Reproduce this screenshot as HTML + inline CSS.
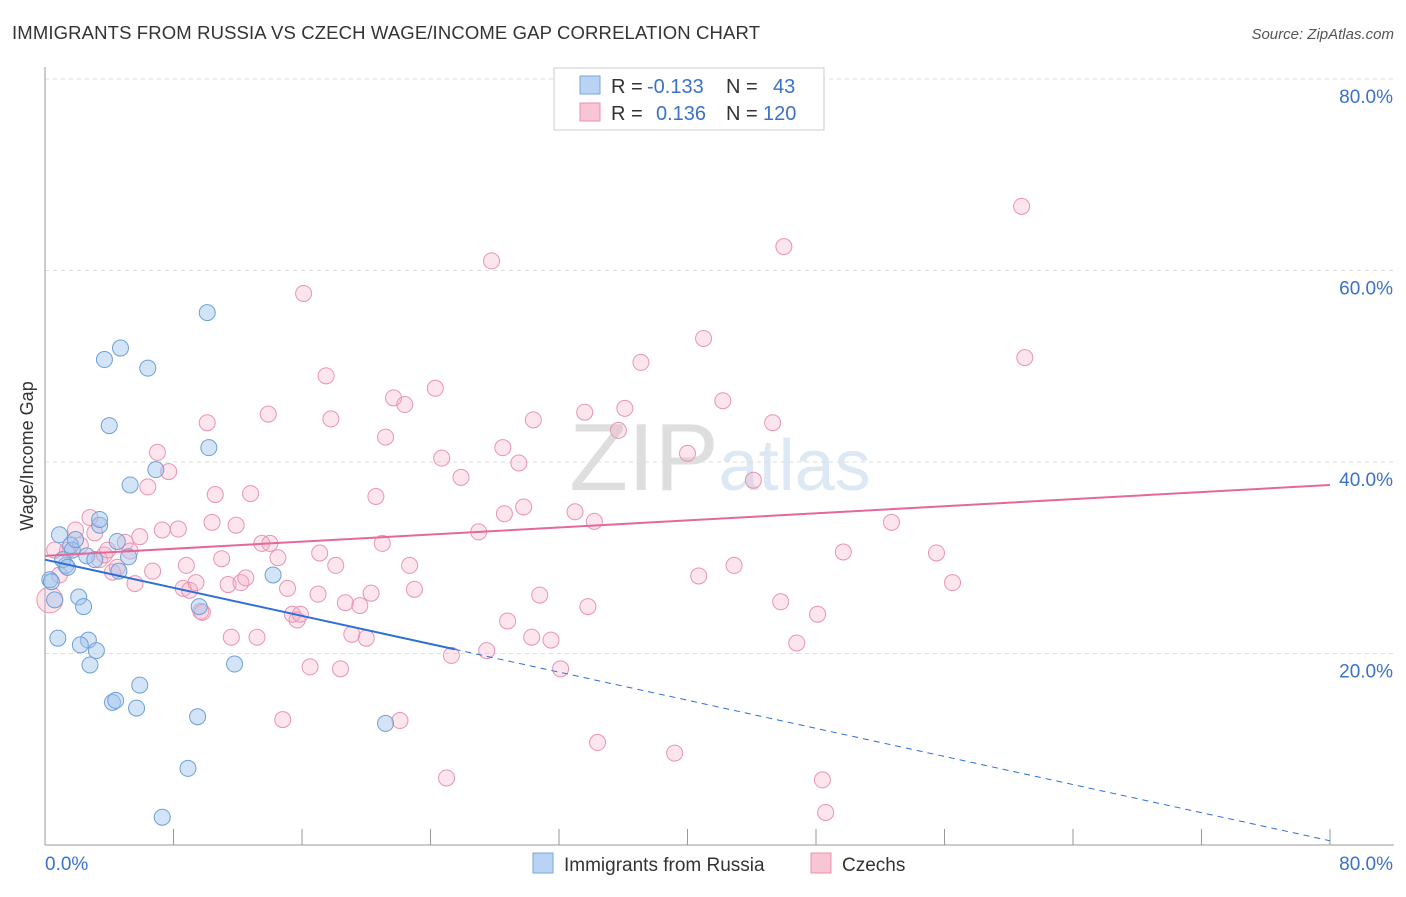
<!DOCTYPE html>
<html><head><meta charset="utf-8"><style>
body{margin:0;background:#fff;font-family:"Liberation Sans",sans-serif;}
svg text{font-family:"Liberation Sans",sans-serif;}
</style></head><body>
<svg id="chart" width="1406" height="892" viewBox="0 0 1406 892" xmlns="http://www.w3.org/2000/svg">
<text x="12" y="39" font-size="18.5" textLength="748" fill="#333">IMMIGRANTS FROM RUSSIA VS CZECH WAGE/INCOME GAP CORRELATION CHART</text>
<text x="1394" y="39" font-size="15" fill="#555" text-anchor="end" font-style="italic">Source: ZipAtlas.com</text>
<text x="720" y="490" font-size="96" text-anchor="middle" fill="#e6e6e6" font-family="Liberation Serif"><tspan fill="#dedede">ZIP</tspan><tspan fill="#dde8f5" font-family="Liberation Sans" font-size="72">atlas</tspan></text>
<g id="grid"></g>
<g id="axes"></g>
<g id="points"></g>
<g id="trends"></g>
<g>
<rect x="554" y="68" width="270" height="62" fill="#fff" stroke="#ccc"/>
<rect x="580" y="76" width="20" height="18" fill="#b8d3f3" stroke="#7aa6dd"/>
<text x="611" y="93" font-size="20" fill="#333">R =</text>
<text x="647" y="93" font-size="20" fill="#3b72c9">-0.133</text>
<text x="726" y="93" font-size="20" fill="#333">N =</text>
<text x="773" y="93" font-size="20" fill="#3b72c9">43</text>
<rect x="580" y="103" width="20" height="18" fill="#f8c5d4" stroke="#e891ad"/>
<text x="611" y="120" font-size="20" fill="#333">R =</text>
<text x="656" y="120" font-size="20" fill="#3b72c9">0.136</text>
<text x="726" y="120" font-size="20" fill="#333">N =</text>
<text x="763" y="120" font-size="20" fill="#3b72c9">120</text>
</g>
<g>
<rect x="533" y="853" width="20" height="20" fill="#b8d3f3" stroke="#7aa6dd"/>
<text x="564" y="871" font-size="19" fill="#333">Immigrants from Russia</text>
<rect x="811" y="853" width="20" height="20" fill="#f8c5d4" stroke="#e891ad"/>
<text x="842" y="871" font-size="19" fill="#333">Czechs</text>
</g>
<text transform="translate(33,456) rotate(-90)" font-size="18" fill="#333" text-anchor="middle">Wage/Income Gap</text>
</svg>
<script>
const yTicks=[20,40,60,80];
const xTickLabels=["0.0%","80.0%"];
const blueX=[0.3,0.6,0.9,1.6,1.7,1.9,1.3,1.1,0.4,0.8,2.1,2.4,2.7,2.2,2.8,3.2,2.6,3.1,3.4,3.4,3.7,4.0,4.5,4.7,4.6,5.2,5.3,6.4,6.9,5.9,5.7,4.2,4.4,10.1,10.2,9.6,9.5,8.9,7.3,11.8,14.2,21.2,1.4];
const blueY=[27.7,25.6,32.4,31.3,30.8,31.9,29.2,29.8,27.5,21.6,25.9,24.9,21.4,20.9,18.8,20.3,30.2,29.8,33.4,34.0,50.7,43.8,31.7,51.9,28.6,30.1,37.6,49.8,39.2,16.7,14.3,14.9,15.1,55.6,41.5,24.9,13.4,8.0,2.9,18.9,28.2,12.7,29.0];
const pinkX=[0.3,0.6,0.9,1.4,1.9,2.2,2.8,3.1,3.4,3.7,3.9,4.2,4.5,5.0,5.3,5.6,5.9,6.4,6.7,7.0,7.3,7.7,8.3,8.6,8.8,9.0,9.4,9.7,9.8,10.1,10.4,10.6,11.0,11.4,11.6,11.9,12.2,12.5,12.8,13.2,13.5,14.0,13.9,14.5,14.8,15.1,15.4,15.7,15.9,16.1,16.5,17.1,17.0,17.5,17.8,18.1,18.4,18.7,19.1,19.6,20.0,20.3,20.6,21.0,21.2,21.7,22.1,22.4,22.7,23.0,24.3,24.7,25.0,25.3,25.9,27.0,27.5,27.8,28.5,28.6,28.8,29.5,29.8,30.3,30.4,30.8,31.5,32.1,33.0,33.6,33.8,34.2,34.4,35.7,36.1,37.1,39.2,40.0,40.7,41.0,42.2,42.9,44.1,45.3,45.8,46.0,46.8,48.1,48.4,48.6,49.7,52.7,55.5,56.5,60.8,61.0];
const pinkY=[25.6,30.8,28.2,30.8,32.9,31.3,34.2,32.6,29.8,30.3,30.8,28.5,29.0,31.6,30.7,27.3,32.2,37.4,28.6,41.0,32.9,39.0,33.0,26.8,29.2,26.6,27.4,24.4,24.3,44.1,33.7,36.6,29.9,27.2,21.7,33.4,27.4,27.9,36.7,21.7,31.5,31.5,45.0,30.0,13.1,26.8,24.1,23.5,24.1,57.6,18.6,30.5,26.2,49.0,44.5,29.2,18.4,25.3,22.0,25.0,21.6,26.3,36.4,31.5,42.6,46.7,13.0,46.0,29.2,26.7,47.7,40.4,7.0,19.8,38.4,32.7,20.3,61.0,41.5,34.6,23.4,39.9,35.3,21.7,44.4,26.1,21.4,18.4,34.8,45.2,24.9,33.8,10.7,43.3,45.6,50.4,9.6,40.9,28.1,52.9,46.4,29.2,38.1,44.1,25.4,62.5,21.1,24.1,6.8,3.4,30.6,33.7,30.5,27.4,66.7,50.9];
const blueTrend=[29.8,-0.367];
const pinkTrend=[30.2,0.0925];
const blueSolidEnd=25.5;

const NS="http://www.w3.org/2000/svg";
const X=v=>45+v*(1330-45)/80;
const Y=v=>845-v*9.575;
function mk(tag,attrs,parent){const e=document.createElementNS(NS,tag);for(const k in attrs)e.setAttribute(k,attrs[k]);parent.appendChild(e);return e;}
const grid=document.getElementById('grid'),axes=document.getElementById('axes'),pts=document.getElementById('points'),tr=document.getElementById('trends');
yTicks.forEach(t=>{
  const l=mk('line',{x1:45,x2:1394,y1:Y(t),y2:Y(t),stroke:'#ddd','stroke-dasharray':'4,4'},grid);
  
  
  const tx=mk('text',{x:1393,y:Y(t)+24,'font-size':19,fill:'#3b72c9','text-anchor':'end'},axes);
  tx.textContent=t.toFixed(1)+'%';
  
  
});
const ax=mk('line',{x1:45,x2:45,y1:67,y2:845,stroke:'#999'},axes);


const bx=mk('line',{x1:45,x2:1394,y1:845,y2:845,stroke:'#999'},axes);


for(let i=0;i<=10;i++){
  const t=mk('line',{x1:X(i*8),x2:X(i*8),y1:829,y2:845,stroke:'#999'},axes);
  
  
}
const xl0=mk('text',{x:45,y:870,'font-size':19,fill:'#3b72c9'},axes);xl0.textContent=xTickLabels[0];


const xl1=mk('text',{x:1393,y:870,'font-size':19,fill:'#3b72c9','text-anchor':'end'},axes);xl1.textContent=xTickLabels[1];


pinkX.forEach((v,i)=>{
  const c=mk('circle',{cx:X(v),cy:Y(pinkY[i]),r:i===0?13:8,fill:'rgba(244,170,195,0.3)',stroke:'#e994b1','stroke-width':1},pts);
  
  
});
blueX.forEach((v,i)=>{
  const c=mk('circle',{cx:X(v),cy:Y(blueY[i]),r:8,fill:'rgba(160,195,238,0.45)',stroke:'#6f9fd8','stroke-width':1},pts);
  
  
});
const f=(t,x)=>t[0]+t[1]*x;
const b1=mk('line',{x1:X(0),y1:Y(f(blueTrend,0)),x2:X(blueSolidEnd),y2:Y(f(blueTrend,blueSolidEnd)),stroke:'#2e6fd6','stroke-width':2},tr);


const b2=mk('line',{x1:X(blueSolidEnd),y1:Y(f(blueTrend,blueSolidEnd)),x2:X(80),y2:Y(f(blueTrend,80)),stroke:'#2e6fd6','stroke-width':1,'stroke-dasharray':'6,5'},tr);


const p1=mk('line',{x1:X(0),y1:Y(f(pinkTrend,0)),x2:X(80),y2:Y(f(pinkTrend,80)),stroke:'#e4689a','stroke-width':2},tr);


</script>
</body></html>
